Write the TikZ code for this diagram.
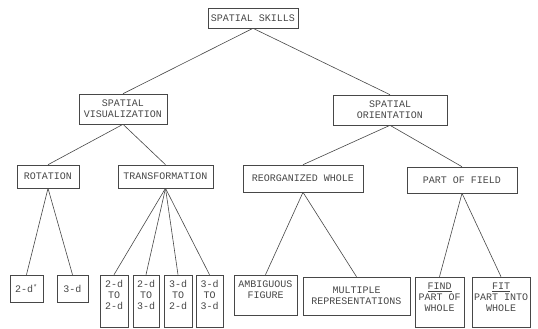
\documentclass[tikz,border=0pt]{standalone}
\usepackage{fontspec}
\setmonofont{Liberation Mono}
\definecolor{ink}{gray}{0.28}
\newcommand{\bx}[5]{\parbox[c][#2pt][#3]{#1pt}{\centering\vspace*{#4pt}#5}}
\begin{document}
\begin{tikzpicture}[x=1pt,y=-1pt,
  box/.style={draw=ink, line width=0.6pt, inner sep=0pt, text=ink,
    font=\ttfamily\fontsize{10}{11}\selectfont},
  link/.style={draw=ink, line width=0.6pt}]
\useasboundingbox (0,0) rectangle (538,329);
% level 1
\node[box] (sk) at (253,18) {\bx{90}{20}{c}{0}{SPATIAL SKILLS}};
% level 2
\node[box] (sv) at (123,109) {\bx{88}{30}{c}{0}{SPATIAL\\VISUALIZATION}};
\node[box] (so) at (390,110) {\bx{114}{30}{c}{0}{SPATIAL\\ORIENTATION}};
% level 3
\node[box] (rot) at (48,176.5) {\bx{62}{23}{c}{0}{ROTATION}};
\node[box] (tr) at (165.5,176.5) {\bx{95}{23}{c}{0}{TRANSFORMATION}};
\node[box] (rw) at (303,178.5) {\bx{120}{27}{c}{0}{REORGANIZED WHOLE}};
\node[box] (pf) at (462,180) {\bx{110}{26}{c}{0}{PART OF FIELD}};
% level 4
\node[box] (d2) at (26.5,288.5) {\bx{33}{27}{c}{0}{2-d\textsuperscript{*}}};
\node[box] (d3) at (72.5,288.5) {\bx{31}{27}{c}{0}{3-d}};
\node[box] (c1) at (114,301) {\bx{28}{52}{t}{5}{2-d\\TO\\2-d}};
\node[box] (c2) at (146,301) {\bx{26}{52}{t}{5}{2-d\\TO\\3-d}};
\node[box] (c3) at (178,301) {\bx{28}{52}{t}{5}{3-d\\TO\\2-d}};
\node[box] (c4) at (209.5,301) {\bx{27}{52}{t}{5}{3-d\\TO\\3-d}};
\node[box] (amb) at (265.5,295) {\bx{63}{40}{t}{6}{AMBIGUOUS\\FIGURE}};
\node[box] (mul) at (356.5,296) {\bx{107}{38}{c}{0}{MULTIPLE\\REPRESENTATIONS}};
\node[box] (fnd) at (439.5,302) {\bx{49}{50}{t}{6}{\underline{FIND}\\PART OF\\WHOLE}};
\node[box] (fit) at (501,302) {\bx{58}{50}{t}{6}{\underline{FIT}\\PART INTO\\WHOLE}};
% connectors
\draw[link] (sk.south) -- (sv.north);
\draw[link] (sk.south) -- (so.north);
\draw[link] (sv.south) -- (rot.north);
\draw[link] (sv.south) -- (tr.north);
\draw[link] (so.south) -- (rw.north);
\draw[link] (so.south) -- (pf.north);
\draw[link] (rot.south) -- (d2.north);
\draw[link] (rot.south) -- (d3.north);
\draw[link] (tr.south) -- (c1.north);
\draw[link] (tr.south) -- (c2.north);
\draw[link] (tr.south) -- (c3.north);
\draw[link] (tr.south) -- (c4.north);
\draw[link] (rw.south) -- (amb.north);
\draw[link] (rw.south) -- (mul.north);
\draw[link] (pf.south) -- (fnd.north);
\draw[link] (pf.south) -- (fit.north);
\end{tikzpicture}
\end{document}
